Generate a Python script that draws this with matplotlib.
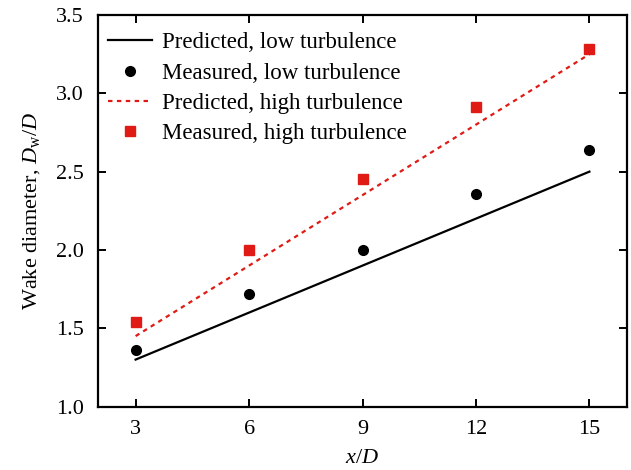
import matplotlib
matplotlib.use("Agg")
import matplotlib.pyplot as plt

# data
x = [3, 6, 9, 12, 15]
pred_low = [1.30, 1.60, 1.90, 2.20, 2.50]
meas_low = [1.36, 1.72, 2.00, 2.36, 2.64]
pred_high = [1.45, 1.90, 2.35, 2.80, 3.25]
meas_high = [1.54, 2.00, 2.45, 2.91, 3.28]

xticks = [3, 6, 9, 12, 15]
yticks = [1.0, 1.5, 2.0, 2.5, 3.0, 3.5]

plt.rcParams["font.family"] = ["Liberation Serif", "DejaVu Serif"]
plt.rcParams["mathtext.fontset"] = "custom"
plt.rcParams["mathtext.rm"] = "Liberation Serif"
plt.rcParams["mathtext.it"] = "Liberation Serif:italic"

red = "#e01a14"

fig, ax = plt.subplots(figsize=(6.31, 4.70), dpi=100)
fig.subplots_adjust(left=0.155, right=0.994, top=0.968, bottom=0.135)

ax.plot(x, pred_low, color="black", lw=1.6, label="Predicted, low turbulence")
ax.plot(x, meas_low, "o", color="black", ms=7, lw=0, label="Measured, low turbulence")
ax.plot(x, pred_high, color=red, lw=1.6, linestyle=(0, (2, 2)),
        label="Predicted, high turbulence")
ax.plot(x, meas_high, "s", color=red, ms=6.5, lw=0, label="Measured, high turbulence")

ax.set_xlim(2, 16)
ax.set_ylim(1.0, 3.5)
ax.set_xticks(xticks)
ax.set_yticks(yticks)
ax.set_yticklabels([f"{v:.1f}" for v in yticks])

ax.tick_params(direction="in", top=True, right=True, length=6, width=1.4,
               labelsize=16, pad=10)
for s in ax.spines.values():
    s.set_linewidth(1.6)

ax.set_xlabel("$x/D$", fontsize=16, labelpad=7)
ax.set_ylabel(r"Wake diameter, $D_\mathrm{w}/D$", fontsize=16, labelpad=10)

ax.legend(loc="upper left", bbox_to_anchor=(0.0, 0.982), frameon=False,
          fontsize=16.5, handlelength=1.9, labelspacing=0.4,
          borderaxespad=0.05, handletextpad=0.45)

fig.savefig("out.png", dpi=100)
